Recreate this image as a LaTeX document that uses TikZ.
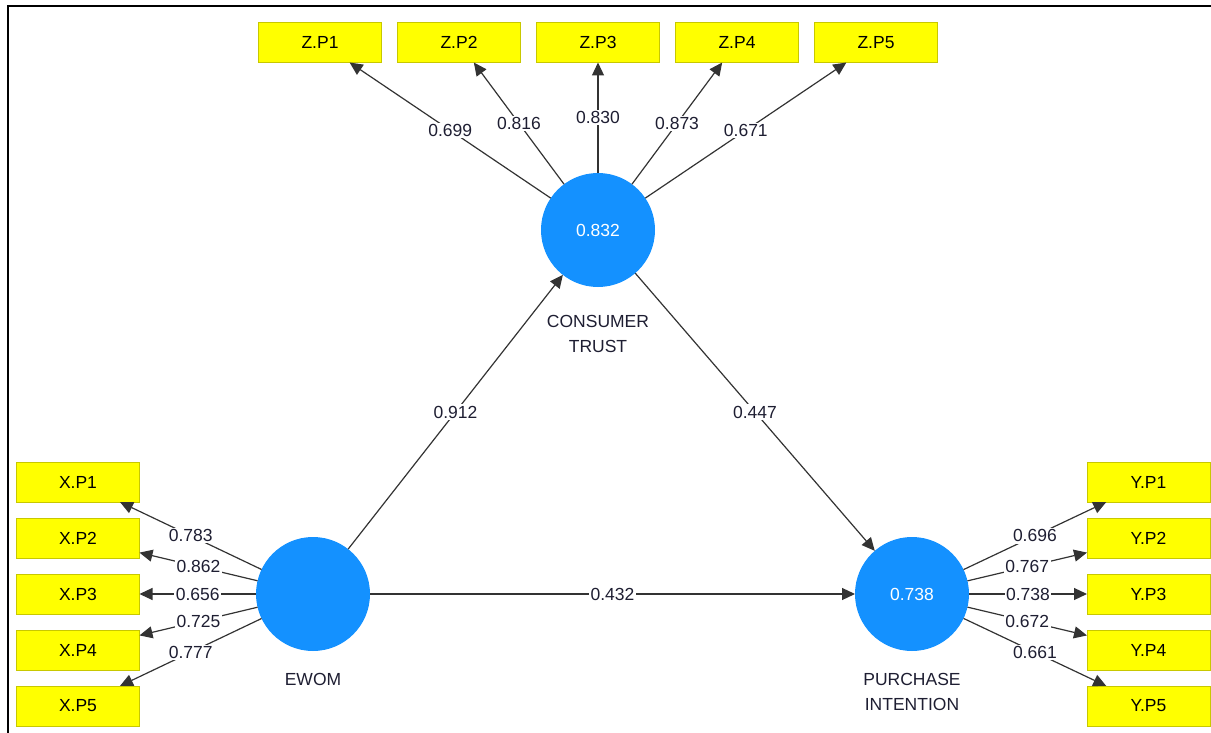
\documentclass[tikz,border=0pt]{standalone}
\usepackage{fontspec}
\setmainfont{Liberation Sans}
\usetikzlibrary{arrows.meta,positioning}

\definecolor{plsblue}{RGB}{20,145,255}
\definecolor{plsyellow}{RGB}{255,255,0}
\definecolor{plsborder}{RGB}{200,200,0}
\definecolor{plstext}{RGB}{30,30,50}

\tikzset{
  indicator/.style={rectangle, draw=plsborder, fill=plsyellow, minimum width=123pt,
    minimum height=40pt, inner sep=0pt, outer sep=0pt, text=black},
  latent/.style={circle, fill=plsblue, minimum size=114pt, inner sep=0pt,
    outer sep=0pt, text=white},
  caption/.style={align=center, inner sep=0pt, text=plstext},
  link/.style={draw=black!80, line width=1.2pt, -{Triangle[length=13pt,width=12pt]}},
  weight/.style={fill=white, inner sep=1.5pt, text=plstext}
}

\begin{document}
\begin{tikzpicture}[x=1pt, y=-1pt, font=\fontsize{17.5}{25}\selectfont]
  \useasboundingbox (0,0) rectangle (1211,733);
  \draw[line width=2pt] (8,733) -- (8,6) -- (1211,6);

  % constructs
  \node[latent] (ct) at (598,230) {0.832};
  \node[latent] (ewom) at (313,594) {};
  \node[latent] (pi) at (912,594) {0.738};
  \node[caption, below=28pt of ct] (ctlabel) {CONSUMER\\TRUST};
  \node[caption, below=22pt of ewom] (ewomlabel) {EWOM};
  \node[caption, below=22pt of pi] (pilabel) {PURCHASE\\INTENTION};

  % indicators
  \node[indicator] (zp3) at (598,42.5) {Z.P3};
  \node[indicator, left=16pt of zp3] (zp2) {Z.P2};
  \node[indicator, left=16pt of zp2] (zp1) {Z.P1};
  \node[indicator, right=16pt of zp3] (zp4) {Z.P4};
  \node[indicator, right=16pt of zp4] (zp5) {Z.P5};

  \node[indicator] (xp3) at (78,594) {X.P3};
  \node[indicator, above=16pt of xp3] (xp2) {X.P2};
  \node[indicator, above=16pt of xp2] (xp1) {X.P1};
  \node[indicator, below=16pt of xp3] (xp4) {X.P4};
  \node[indicator, below=16pt of xp4] (xp5) {X.P5};

  \node[indicator] (yp3) at (1148.5,594) {Y.P3};
  \node[indicator, above=16pt of yp3] (yp2) {Y.P2};
  \node[indicator, above=16pt of yp2] (yp1) {Y.P1};
  \node[indicator, below=16pt of yp3] (yp4) {Y.P4};
  \node[indicator, below=16pt of yp4] (yp5) {Y.P5};

  % outer loadings
  \draw[link] (ct) -- node[weight] {0.699} (zp1);
  \draw[link] (ct) -- node[weight] {0.816} (zp2);
  \draw[link] (ct) -- node[weight] {0.830} (zp3);
  \draw[link] (ct) -- node[weight] {0.873} (zp4);
  \draw[link] (ct) -- node[weight] {0.671} (zp5);

  \draw[link] (ewom) -- node[weight] {0.783} (xp1);
  \draw[link] (ewom) -- node[weight] {0.862} (xp2);
  \draw[link] (ewom) -- node[weight] {0.656} (xp3);
  \draw[link] (ewom) -- node[weight] {0.725} (xp4);
  \draw[link] (ewom) -- node[weight] {0.777} (xp5);

  \draw[link] (pi) -- node[weight] {0.696} (yp1);
  \draw[link] (pi) -- node[weight] {0.767} (yp2);
  \draw[link] (pi) -- node[weight] {0.738} (yp3);
  \draw[link] (pi) -- node[weight] {0.672} (yp4);
  \draw[link] (pi) -- node[weight] {0.661} (yp5);

  % path coefficients
  \draw[link] (ewom) -- node[weight] {0.912} (ct);
  \draw[link] (ct) -- node[weight] {0.447} (pi);
  \draw[link] (ewom) -- node[weight] {0.432} (pi);
\end{tikzpicture}
\end{document}
